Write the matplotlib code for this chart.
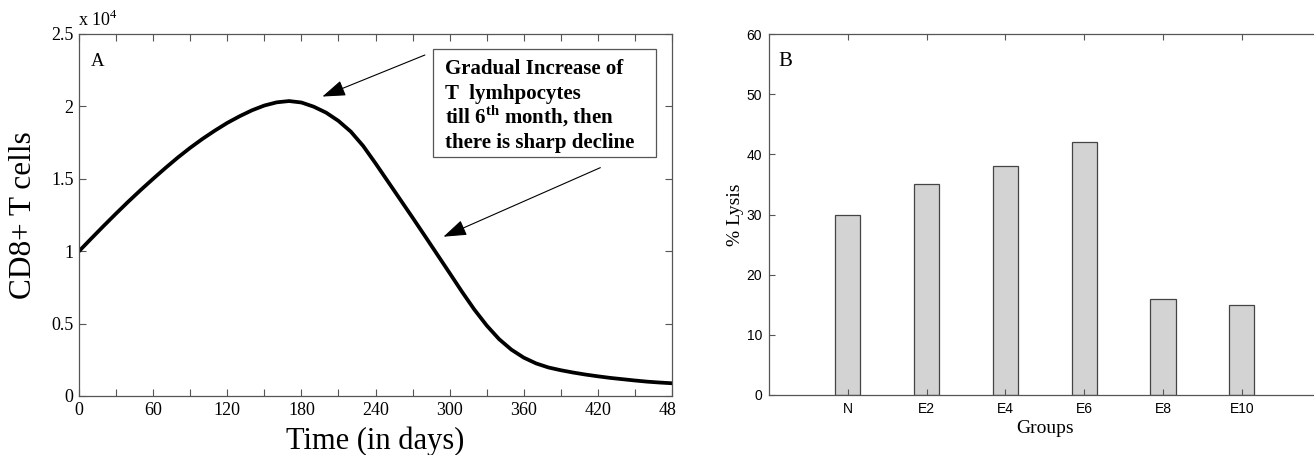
import matplotlib
matplotlib.use("Agg")
import matplotlib.pyplot as plt
from matplotlib.patches import Rectangle

# ---------------- data ----------------
days = [0, 10, 20, 30, 40, 50, 60, 70, 80, 90, 100, 110, 120, 130, 140, 150,
        160, 170, 180, 190, 200, 210, 220, 230, 240, 250, 260, 270, 280, 290,
        300, 310, 320, 330, 340, 350, 360, 370, 380, 390, 400, 410, 420, 430,
        440, 450, 460, 470, 480]
cd8_x1e4 = [1.00, 1.088, 1.175, 1.26, 1.343, 1.423, 1.50, 1.575, 1.647, 1.714,
            1.776, 1.833, 1.886, 1.932, 1.973, 2.006, 2.028, 2.037, 2.027, 1.998,
            1.957, 1.90, 1.826, 1.727, 1.607, 1.482, 1.357, 1.232, 1.105, 0.977,
            0.849, 0.72, 0.597, 0.487, 0.393, 0.32, 0.265, 0.225, 0.197, 0.178,
            0.162, 0.148, 0.136, 0.125, 0.116, 0.107, 0.099, 0.093, 0.088]
x_ticks_a = [0, 30, 60, 90, 120, 150, 180, 210, 240, 270, 300, 330, 360, 390,
             420, 450, 480]
x_labels_a = ["0", "", "60", "", "120", "", "180", "", "240", "", "300", "",
              "360", "", "420", "", "480"]
y_ticks_a = [0, 0.5, 1, 1.5, 2, 2.5]
y_labels_a = ["0", "0.5", "1", "1.5", "2", "2.5"]

groups = ["N", "E2", "E4", "E6", "E8", "E10"]
lysis = [30, 35, 38, 42, 16, 15]
y_ticks_b = [0, 10, 20, 30, 40, 50, 60]

annot_lines = ["Gradual Increase of", "T  lymhpocytes",
               r"till 6$^{\mathbf{th}}$ month, then", "there is sharp decline"]

# ---------------- style ----------------
plt.rcParams["mathtext.fontset"] = "custom"
plt.rcParams["mathtext.rm"] = "Liberation Serif"
plt.rcParams["mathtext.bf"] = "Liberation Serif:bold"
SERIF = "Liberation Serif"
SANS = "Liberation Sans"
SPINE = "#555555"

W, H = 1314, 455
fig = plt.figure(figsize=(W / 100, H / 100), dpi=100)

def fx(px):
    return px / W

def fy(py):
    return 1 - py / H

# ---------------- panel A ----------------
axA = fig.add_axes([fx(79), fy(396), fx(672) - fx(79), fy(34) - fy(396)])
axA.plot(days, cd8_x1e4, color="black", lw=2.7, solid_joinstyle="round")
axA.set_xlim(0, 480)
axA.set_ylim(0, 2.5)
axA.set_xticks(x_ticks_a)
axA.set_xticklabels(x_labels_a)
axA.set_yticks(y_ticks_a)
axA.set_yticklabels(y_labels_a)
axA.tick_params(direction="in", top=True, right=True, length=5, width=0.8,
                color=SPINE, labelsize=13, pad=4)
for lab in axA.get_xticklabels() + axA.get_yticklabels():
    lab.set_family(SERIF)
for s in axA.spines.values():
    s.set_color(SPINE)
    s.set_linewidth(0.9)
axA.set_xlabel("Time (in days)", family=SERIF, fontsize=22, labelpad=5.5)
axA.set_ylabel("CD8+ T cells", family=SERIF, fontsize=22.5, labelpad=9)
axA.text(0.02, 0.923, "A", transform=axA.transAxes, family=SERIF, fontsize=13.5,
         va="center", ha="left")

# arrows
arrow_kw = dict(arrowstyle="-|>,head_length=1.3,head_width=0.45", color="black",
                lw=0.8, shrinkA=0, shrinkB=0, mutation_scale=11)
axA.annotate("", xy=(197, 2.068), xytext=(280, 2.355), arrowprops=arrow_kw)
axA.annotate("", xy=(295, 1.10), xytext=(422, 1.577), arrowprops=arrow_kw)

# annotation box and text
fig.patches.append(Rectangle((fx(433), fy(157)), fx(656) - fx(433), fy(49) - fy(157),
                             transform=fig.transFigure, facecolor="white",
                             edgecolor=SPINE, lw=0.9, zorder=5))
baselines = [74.5, 98.5, 123.5, 148]
for line, b in zip(annot_lines, baselines):
    fig.text(fx(445), fy(b), line, family=SERIF, fontweight="bold", fontsize=15,
             va="baseline", ha="left", zorder=6)

# multiplier text
fig.text(fx(78), fy(26), r"x 10$^{4}$", family=SERIF, fontsize=13, va="baseline")

# ---------------- panel B ----------------
axB = fig.add_axes([fx(769), fy(395), fx(769 + 7 * 78.8) - fx(769), fy(34) - fy(395)])
xpos = list(range(1, len(groups) + 1))
axB.bar(xpos, lysis, width=0.32, color="#d3d3d3", edgecolor="#444444", lw=0.9)
axB.set_xlim(0, 7)
axB.set_ylim(0, 60)
axB.set_xticks(xpos)
axB.set_xticklabels(groups)
axB.set_yticks(y_ticks_b)
axB.tick_params(direction="in", top=True, right=True, length=4, width=0.8,
                color=SPINE, labelsize=10, pad=5)
for lab in axB.get_xticklabels() + axB.get_yticklabels():
    lab.set_family(SANS)
for s in axB.spines.values():
    s.set_color(SPINE)
    s.set_linewidth(0.9)
axB.set_xlabel("Groups", family=SERIF, fontsize=14, labelpad=3)
axB.set_ylabel("% Lysis", family=SERIF, fontsize=14, labelpad=2)
axB.text(0.017, 0.923, "B", transform=axB.transAxes, family=SERIF, fontsize=15,
         va="center", ha="left")

# the source image is a montage: the last x tick label of panel A is cut
fig.patches.append(Rectangle((fx(676), fy(425)), fx(740) - fx(676), fy(398) - fy(425),
                             transform=fig.transFigure, facecolor="white",
                             edgecolor="none", zorder=10))

fig.savefig("out.png", dpi=100)
